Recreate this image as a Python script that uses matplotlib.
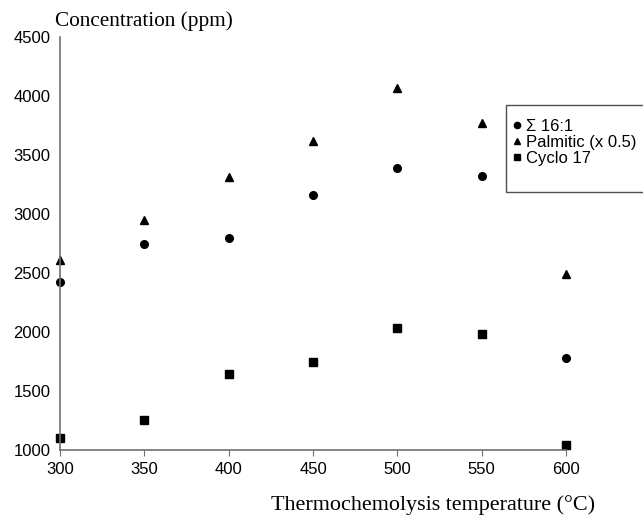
import matplotlib.pyplot as plt
from matplotlib.lines import Line2D
from matplotlib.patches import Rectangle

# data
temps = [300, 350, 400, 450, 500, 550, 600]
sum16 = [2420, 2750, 2800, 3160, 3390, 3320, 1780]
palmitic = [2610, 2950, 3310, 3620, 4070, 3770, 2490]
cyclo17 = [1100, 1255, 1640, 1745, 2035, 1980, 1040]
labels = ['\u03a3 16:1', 'Palmitic (x 0.5)', 'Cyclo 17']

plt.rcParams['font.family'] = ['Liberation Sans', 'DejaVu Sans']

fig = plt.figure(figsize=(6.43, 5.17), dpi=100)
ax = fig.add_axes([60 / 643, 67 / 517, 506 / 643, 413 / 517])

ax.plot(temps, sum16, 'o', color='black', markersize=5.5, clip_on=False)
ax.plot(temps, palmitic, '^', color='black', markersize=6, clip_on=False)
ax.plot(temps, cyclo17, 's', color='black', markersize=5.5, clip_on=False)

ax.set_xlim(300, 600)
ax.set_ylim(1000, 4500)
ax.set_xticks(range(300, 601, 50))
ax.set_yticks(range(1000, 4501, 500))

for s in ['top', 'right']:
    ax.spines[s].set_visible(False)
for s in ['left', 'bottom']:
    ax.spines[s].set_color('#707070')
    ax.spines[s].set_linewidth(1.2)

ax.tick_params(axis='x', length=4, color='#707070', labelsize=12, pad=5)
ax.tick_params(axis='y', length=0, labelsize=12, pad=7)

fig.text(55 / 643, 1 - 21 / 517, 'Concentration (ppm)', family='Liberation Serif',
         fontsize=15.3, ha='left', va='center')
fig.text(595 / 643, 1 - 505 / 517, 'Thermochemolysis temperature (\u00b0C)',
         family='Liberation Serif', fontsize=15.9, ha='right', va='center')

# legend box runs past the right edge, like the reference
fig.patches.append(Rectangle((506 / 643, 1 - 192 / 517), 150 / 643, 87 / 517,
                             transform=fig.transFigure, fill=False,
                             edgecolor='#505050', linewidth=1))
handles = [Line2D([], [], marker=m, ls='none', color='black', markersize=ms)
           for m, ms in [('o', 4.5), ('^', 5), ('s', 5)]]
fig.legend(handles, labels, loc='upper left',
           bbox_to_anchor=(513 / 643, 1 - 119 / 517),
           frameon=False, fontsize=12,
           handlelength=0.5, handletextpad=0.3, labelspacing=0.05,
           borderpad=0, borderaxespad=0)

plt.savefig('out.png', dpi=100)
